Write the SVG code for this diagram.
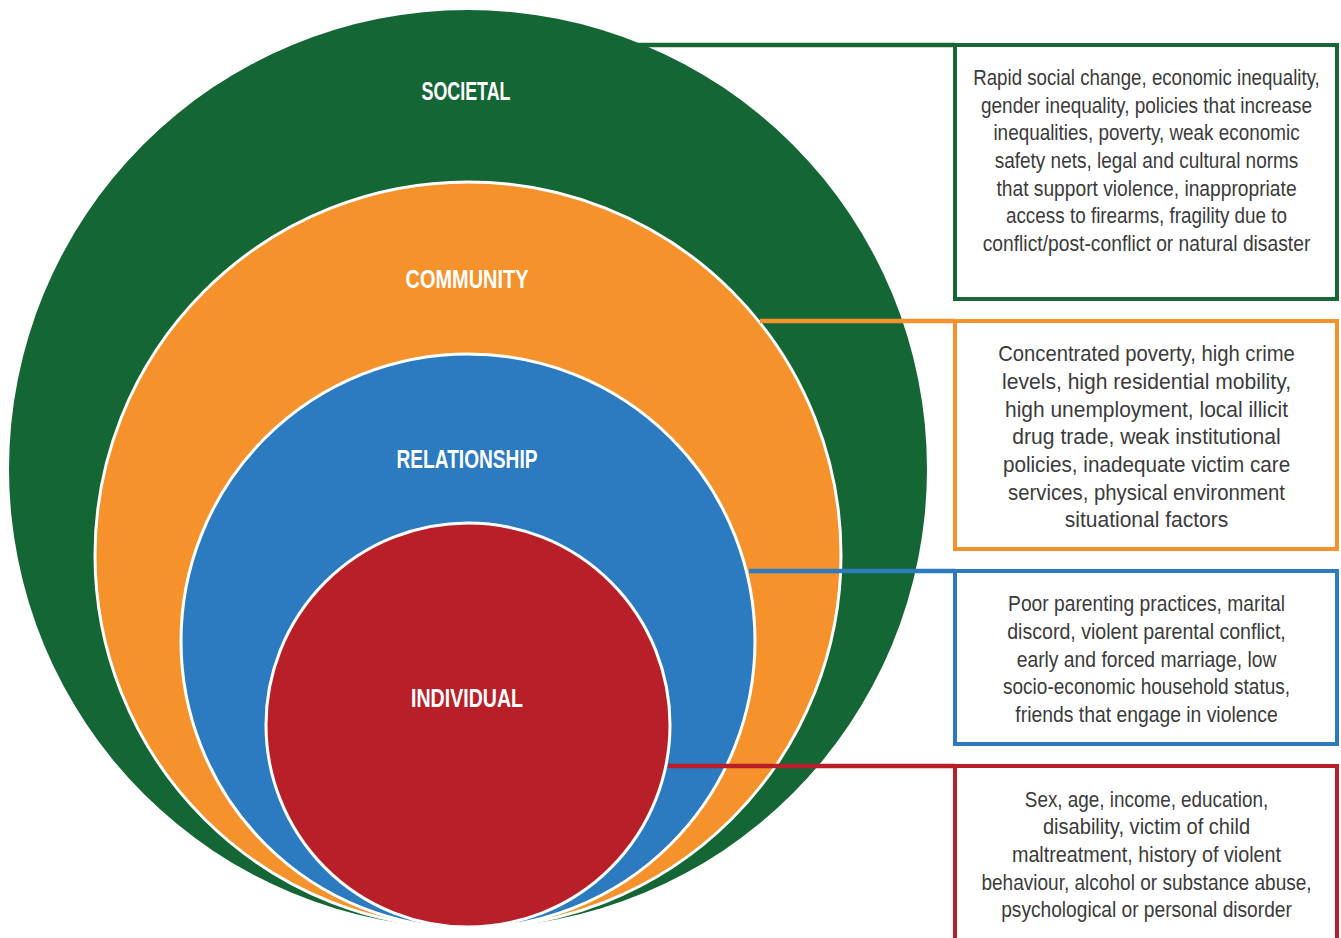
<svg xmlns="http://www.w3.org/2000/svg" width="1341" height="938" viewBox="0 0 1341 938">
<style>
.ring{stroke:#ffffff;stroke-width:3}
.lbl{font-family:"Liberation Sans",Arial,sans-serif;font-weight:bold;font-size:26px;fill:#ffffff;text-anchor:middle}
.txt{font-family:"Liberation Sans",Arial,sans-serif;font-size:22px;fill:#3b3b3b;text-anchor:middle}
.box{fill:#ffffff;stroke-width:4}
.conn{fill:none;stroke-width:4.5}
.g{stroke:#176736}.o{stroke:#F5922B}.b{stroke:#2D7ABF}.r{stroke:#B91F28}
</style>
<rect width="1341" height="938" fill="#ffffff"/>
<g id="societal">
<circle cx="468" cy="469" r="459" fill="#156635"/>
<text class="lbl" x="466" y="100" textLength="89" lengthAdjust="spacingAndGlyphs">SOCIETAL</text>
</g>
<g id="community">
<circle class="ring" cx="468" cy="555" r="373" fill="#F5922B"/>
<text class="lbl" x="467" y="288" textLength="123" lengthAdjust="spacingAndGlyphs">COMMUNITY</text>
</g>
<g id="relationship">
<circle class="ring" cx="468" cy="641" r="287" fill="#2C7ABF"/>
<text class="lbl" x="467" y="468" textLength="141" lengthAdjust="spacingAndGlyphs">RELATIONSHIP</text>
</g>
<g id="individual">
<circle class="ring" cx="468" cy="725" r="202" fill="#B91F28"/>
<text class="lbl" x="467" y="707" textLength="112" lengthAdjust="spacingAndGlyphs">INDIVIDUAL</text>
</g>
<g id="connectors">
<line class="conn g" x1="636" y1="45" x2="955" y2="45"/>
<line class="conn o" x1="760" y1="321" x2="955" y2="321"/>
<line class="conn b" x1="749" y1="571" x2="955" y2="571"/>
<line class="conn r" x1="668" y1="766" x2="955" y2="766"/>
</g>
<g id="box-societal">
<rect class="box g" x="955" y="45" width="382" height="254"/>
<g transform="translate(1146.5 0) scale(0.86 1)">
<text class="txt" x="0" y="85" textLength="403" lengthAdjust="spacingAndGlyphs">Rapid social change, economic inequality,</text>
<text class="txt" x="0" y="113" textLength="385" lengthAdjust="spacingAndGlyphs">gender inequality, policies that increase</text>
<text class="txt" x="0" y="140" textLength="356" lengthAdjust="spacingAndGlyphs">inequalities, poverty, weak economic</text>
<text class="txt" x="0" y="168" textLength="353" lengthAdjust="spacingAndGlyphs">safety nets, legal and cultural norms</text>
<text class="txt" x="0" y="196" textLength="349" lengthAdjust="spacingAndGlyphs">that support violence, inappropriate</text>
<text class="txt" x="0" y="223" textLength="327" lengthAdjust="spacingAndGlyphs">access to firearms, fragility due to</text>
<text class="txt" x="0" y="251" textLength="381" lengthAdjust="spacingAndGlyphs">conflict/post-conflict or natural disaster</text>
</g>
</g>
<g id="box-community">
<rect class="box o" x="955" y="321" width="382" height="228"/>
<g transform="translate(1146.5 0) scale(0.86 1)">
<text class="txt" x="0" y="361" textLength="345" lengthAdjust="spacingAndGlyphs">Concentrated poverty, high crime</text>
<text class="txt" x="0" y="389" textLength="336" lengthAdjust="spacingAndGlyphs">levels, high residential mobility,</text>
<text class="txt" x="0" y="417" textLength="329" lengthAdjust="spacingAndGlyphs">high unemployment, local illicit</text>
<text class="txt" x="0" y="444" textLength="312" lengthAdjust="spacingAndGlyphs">drug trade, weak institutional</text>
<text class="txt" x="0" y="472" textLength="334" lengthAdjust="spacingAndGlyphs">policies, inadequate victim care</text>
<text class="txt" x="0" y="500" textLength="322" lengthAdjust="spacingAndGlyphs">services, physical environment</text>
<text class="txt" x="0" y="527" textLength="190" lengthAdjust="spacingAndGlyphs">situational factors</text>
</g>
</g>
<g id="box-relationship">
<rect class="box b" x="955" y="571" width="382" height="173"/>
<g transform="translate(1146.5 0) scale(0.86 1)">
<text class="txt" x="0" y="611" textLength="322" lengthAdjust="spacingAndGlyphs">Poor parenting practices, marital</text>
<text class="txt" x="0" y="639" textLength="324" lengthAdjust="spacingAndGlyphs">discord, violent parental conflict,</text>
<text class="txt" x="0" y="667" textLength="302" lengthAdjust="spacingAndGlyphs">early and forced marriage, low</text>
<text class="txt" x="0" y="694" textLength="334" lengthAdjust="spacingAndGlyphs">socio-economic household status,</text>
<text class="txt" x="0" y="722" textLength="305" lengthAdjust="spacingAndGlyphs">friends that engage in violence</text>
</g>
</g>
<g id="box-individual">
<path class="box r" d="M955,940 V766 H1337 V940"/>
<g transform="translate(1146.5 0) scale(0.86 1)">
<text class="txt" x="0" y="807" textLength="283" lengthAdjust="spacingAndGlyphs">Sex, age, income, education,</text>
<text class="txt" x="0" y="834" textLength="241" lengthAdjust="spacingAndGlyphs">disability, victim of child</text>
<text class="txt" x="0" y="862" textLength="313" lengthAdjust="spacingAndGlyphs">maltreatment, history of violent</text>
<text class="txt" x="0" y="890" textLength="384" lengthAdjust="spacingAndGlyphs">behaviour, alcohol or substance abuse,</text>
<text class="txt" x="0" y="917" textLength="338" lengthAdjust="spacingAndGlyphs">psychological or personal disorder</text>
</g>
</g>
</svg>
